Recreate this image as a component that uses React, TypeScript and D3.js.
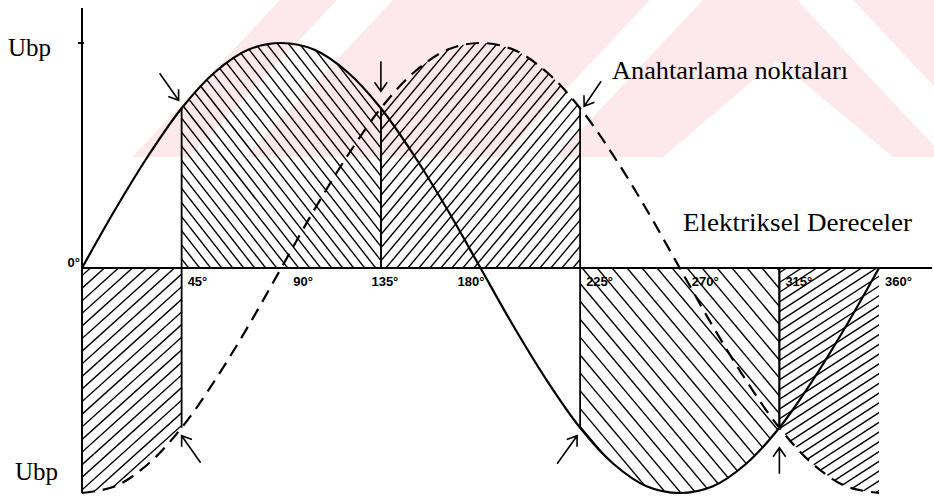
import React from "react";
import * as d3 from "d3";

// electrical degrees, read every 15°
const degrees = [0, 15, 30, 45, 60, 75, 90, 105, 120, 135, 150, 165, 180, 195, 210, 225, 240, 255, 270, 285, 300, 315, 330, 345, 360];
// solid wave (phase A), in units of Ubp
const solidWave = [0, 0.26, 0.5, 0.71, 0.87, 0.97, 1, 0.97, 0.87, 0.71, 0.5, 0.26, 0, -0.26, -0.5, -0.71, -0.87, -0.97, -1, -0.97, -0.87, -0.71, -0.5, -0.26, 0];
// dashed wave (phase B, 90° behind)
const dashedWave = [-1, -0.97, -0.87, -0.71, -0.5, -0.26, 0, 0.26, 0.5, 0.71, 0.87, 0.97, 1, 0.97, 0.87, 0.71, 0.5, 0.26, 0, -0.26, -0.5, -0.71, -0.87, -0.97, -1];

const tickDegrees = [0, 45, 90, 135, 180, 225, 270, 315, 360];
const tickLabels = ["0°", "45°", "90°", "135°", "180°", "225°", "270°", "315°", "360°"];

// hatched conduction intervals: start, end, which wave bounds it
const segStart = [0, 45, 135, 225, 315];
const segEnd = [45, 135, 225, 315, 360];
const segWave = ["dashed", "solid", "dashed", "solid", "dashed"];

// switching points (arrows)
const switchDegrees = [45, 135, 225, 45, 225, 315];
const switchWave = ["solid", "solid", "dashed", "dashed", "solid", "solid"];

const yLabel = "Ubp";
const noteSwitch = "Anahtarlama noktaları";
const noteAxis = "Elektriksel Dereceler";

const W = 934;
const H = 499;

const App = () => {
  const x = d3.scaleLinear().domain([0, 360]).range([82, 879]);
  const y = d3.scaleLinear().domain([-1, 1]).range([493, 43]);
  const y0 = y(0);

  const pts = (vals) => degrees.map((d, i) => ({ d, v: vals[i] }));
  const waves = { solid: pts(solidWave), dashed: pts(dashedWave) };
  const valueAt = (wave, deg) => waves[wave].find((p) => p.d === deg).v;

  const line = d3
    .line()
    .x((p) => x(p.d))
    .y((p) => y(p.v))
    .curve(d3.curveCatmullRom);

  const area = d3
    .area()
    .x((p) => x(p.d))
    .y0(y0)
    .y1((p) => y(p.v))
    .curve(d3.curveCatmullRom);

  // hatch look per interval: direction, angle, horizontal spacing
  const hatchStyle = [
    { dir: "/", angle: 42, step: 14 },
    { dir: "\\", angle: 52, step: 11 },
    { dir: "/", angle: 50, step: 11 },
    { dir: "\\", angle: 50, step: 15 },
    { dir: "/", angle: 33, step: 15 },
  ];

  const hatchLines = (x0, x1, yTop, yBot, st) => {
    const t = Math.tan((st.angle * Math.PI) / 180);
    const span = (yBot - yTop) / t;
    const out = [];
    for (let c = x0 - span - st.step; c <= x1 + span + st.step; c += st.step) {
      if (st.dir === "/") out.push([c, yBot, c + span, yTop]);
      else out.push([c, yTop, c + span, yBot]);
    }
    return out;
  };

  const segments = segStart.map((s, i) => {
    const data = waves[segWave[i]].filter((p) => p.d >= s && p.d <= segEnd[i]);
    const vals = data.map((p) => y(p.v));
    const yTop = Math.min(y0, ...vals) - 5;
    const yBot = Math.max(y0, ...vals) + 5;
    return {
      i,
      path: area(data),
      lines: hatchLines(x(s), x(segEnd[i]), yTop, yBot, hatchStyle[i]),
      left: s > 0 ? [x(s), y0, x(s), y(valueAt(segWave[i], s))] : null,
      right: segEnd[i] < 360 ? [x(segEnd[i]), y0, x(segEnd[i]), y(valueAt(segWave[i], segEnd[i]))] : null,
    };
  });

  // arrow layout: tail offset from head, head gap from switching point
  const arrowLayout = [
    { hx: -3, hy: -8, tx: -19, ty: -27 },
    { hx: 0, hy: -17, tx: 0, ty: -30 },
    { hx: 4, hy: -2, tx: 17, ty: -25 },
    { hx: 0, hy: 8, tx: 19, ty: 27 },
    { hx: -3, hy: 8, tx: -20, ty: 28 },
    { hx: 0, hy: 20, tx: 0, ty: 26 },
  ];

  const arrows = switchDegrees.map((deg, i) => {
    const L = arrowLayout[i];
    const hx = x(deg) + L.hx;
    const hy = y(valueAt(switchWave[i], deg)) + L.hy;
    const tx = hx + L.tx;
    const ty = hy + L.ty;
    const a = Math.atan2(ty - hy, tx - hx);
    const len = 11;
    const spread = (35 * Math.PI) / 180;
    const w1 = [hx + len * Math.cos(a + spread), hy + len * Math.sin(a + spread)];
    const w2 = [hx + len * Math.cos(a - spread), hy + len * Math.sin(a - spread)];
    return `M${tx},${ty}L${hx},${hy}M${w1[0]},${w1[1]}L${hx},${hy}L${w2[0]},${w2[1]}`;
  });

  // tick label placement relative to the degree position
  const tickPlace = (deg) => {
    if (deg === 0) return { dx: -2, dy: -1, anchor: "end" };
    if (deg === 135) return { dx: 4, dy: 18, anchor: "middle" };
    if (deg === 180) return { dx: 4, dy: 18, anchor: "end" };
    if (deg === 90 || deg === 270) return { dx: 12, dy: 18, anchor: "start" };
    return { dx: 6, dy: 18, anchor: "start" };
  };

  // faint background watermark of the scanned page
  const pink = "#fde9ec";
  const slope = 0.94;
  const wmBottom = 157;
  const band = (xa, xb, s) =>
    `M${xa},0L${xb},0L${xb + s * wmBottom},${wmBottom}L${xa + s * wmBottom},${wmBottom}Z`;

  return (
    <svg
      width={W}
      height={H}
      style={{ position: "fixed", left: 0, top: 0, background: "#fff" }}
    >
      <g>
        <path d={`M280,0L${W},0L${W},${wmBottom}L${280 - slope * wmBottom},${wmBottom}Z`} fill={pink} />
        <path d={band(337, 393, -slope)} fill="#fff" />
        <path d={band(650, 703, -slope)} fill="#fff" />
        <path d={band(797, 853, slope)} fill="#fff" />
        <path d={`M777,60L893,${wmBottom}L663,${wmBottom}Z`} fill="#fff" />
      </g>

      <defs>
        {segments.map((s) => (
          <clipPath id={`seg${s.i}`} key={s.i}>
            <path d={s.path} />
          </clipPath>
        ))}
      </defs>

      {segments.map((s) => (
        <g key={s.i} clipPath={`url(#seg${s.i})`}>
          {s.lines.map((l, k) => (
            <line key={k} x1={l[0]} y1={l[1]} x2={l[2]} y2={l[3]} stroke="#000" strokeWidth={1.4} />
          ))}
        </g>
      ))}

      {segments.map((s) => (
        <g key={`e${s.i}`} stroke="#000" strokeWidth={1.8}>
          {s.left && <line x1={s.left[0]} y1={s.left[1]} x2={s.left[2]} y2={s.left[3]} />}
          {s.right && <line x1={s.right[0]} y1={s.right[1]} x2={s.right[2]} y2={s.right[3]} />}
        </g>
      ))}

      {/* axes */}
      <line x1={x(0)} y1={y0} x2={W - 2} y2={y0} stroke="#000" strokeWidth={2.2} />
      <line x1={x(0)} y1={8} x2={x(0)} y2={y(-1)} stroke="#000" strokeWidth={2} />
      <line x1={x(0) - 4} y1={y(1)} x2={x(0) + 2} y2={y(1)} stroke="#000" strokeWidth={2} />

      {/* waves */}
      <path d={line(waves.solid)} fill="none" stroke="#000" strokeWidth={2.2} />
      <path d={line(waves.dashed)} fill="none" stroke="#000" strokeWidth={2.2} strokeDasharray="13 8" />

      {/* switching point arrows */}
      {arrows.map((d, i) => (
        <path key={i} d={d} fill="none" stroke="#000" strokeWidth={1.6} />
      ))}

      {/* tick labels */}
      <g fontFamily="Liberation Sans, Arial, sans-serif" fontWeight="bold" fontSize={13}>
        {tickDegrees.map((deg, i) => {
          const p = tickPlace(deg);
          return (
            <text key={deg} x={x(deg) + p.dx} y={y0 + p.dy} textAnchor={p.anchor}>
              {tickLabels[i]}
            </text>
          );
        })}
      </g>

      <g fontFamily="Liberation Serif, Times New Roman, serif" fontSize={25}>
        <text x={8} y={56}>{yLabel}</text>
        <text x={15} y={480}>{yLabel}</text>
        <text x={612} y={79} textLength={236} lengthAdjust="spacingAndGlyphs">{noteSwitch}</text>
        <text x={683} y={231} textLength={229} lengthAdjust="spacingAndGlyphs">{noteAxis}</text>
      </g>
    </svg>
  );
};

export default App;
